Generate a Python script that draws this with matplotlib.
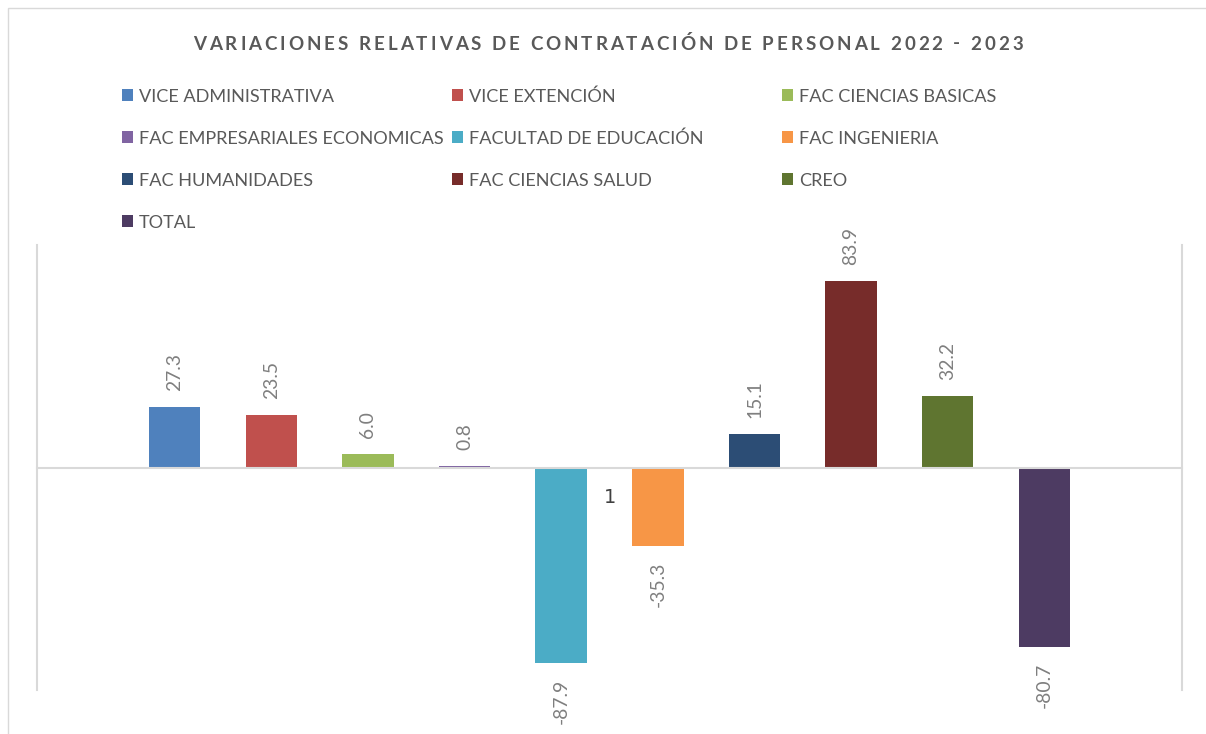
import matplotlib
matplotlib.use('Agg')
import matplotlib.pyplot as plt
from matplotlib.patches import Rectangle
from matplotlib import font_manager
from matplotlib.ft2font import FT2Font

# ---------------- data ----------------
title = "VARIACIONES RELATIVAS DE CONTRATACIÓN DE PERSONAL 2022 - 2023"
categories = ["1"]
series = ["VICE ADMINISTRATIVA", "VICE EXTENCIÓN", "FAC CIENCIAS BASICAS",
          "FAC EMPRESARIALES ECONOMICAS", "FACULTAD DE EDUCACIÓN", "FAC INGENIERIA",
          "FAC HUMANIDADES", "FAC CIENCIAS SALUD", "CREO", "TOTAL"]
values = [27.3, 23.5, 6.0, 0.8, -87.9, -35.3, 15.1, 83.9, 32.2, -80.7]
colors = ["#4F81BD", "#C0504D", "#9BBB59", "#8064A2", "#4BACC6", "#F79646",
          "#2C4D75", "#772C2A", "#5F7530", "#4D3B62"]

# ---------------- setup ----------------
W, H = 1206, 734
DPI = 100
FONT = 'Lato'
fig = plt.figure(figsize=(W / DPI, H / DPI), dpi=DPI)


def adv_width(s, size_pt, weight='normal'):
    path = font_manager.findfont(font_manager.FontProperties(family=FONT, weight=weight))
    f = FT2Font(path)
    f.set_size(size_pt, DPI)
    total = 0.0
    for ch in s:
        g = f.load_char(ord(ch))
        total += g.linearHoriAdvance / 65536
    return total


def fx(px):
    return px / W


def fy(py):
    return 1 - py / H


legend_size = 10 * 305 / adv_width("FAC EMPRESARIALES ECONOMICAS", 10)
label_size = 10 * 38 / adv_width("27.3", 10)

# outer chart border
fig.patches.append(Rectangle((fx(7.5), -0.1), 2, fy(8) + 0.1, fill=False,
                             ec='#d9d9d9', lw=1.0, transform=fig.transFigure, figure=fig))

# ---------------- title (letter-spaced) ----------------
tsize = 13.5
path_b = font_manager.findfont(font_manager.FontProperties(family=FONT, weight='bold'))
fb = FT2Font(path_b)
fb.set_size(tsize, DPI)
advs = []
for ch in title:
    g = fb.load_char(ord(ch))
    advs.append(g.linearHoriAdvance / 65536)
span_left, span_right = 193, 1023
gap = ((span_right - span_left) - sum(advs)) / (len(title) - 1)
x = span_left
for ch, a in zip(title, advs):
    fig.text(fx(x), fy(49.5), ch, fontsize=tsize, fontweight='bold', family=FONT,
             color='#595959', ha='left', va='baseline')
    x += a + gap

# ---------------- legend (manual, equal column widths) ----------------
for i, (name, c) in enumerate(zip(series, colors)):
    col, row = i % 3, i // 3
    sx = 121.5 + 330 * col
    sy = 89 + 42 * row
    fig.patches.append(Rectangle((fx(sx), fy(sy + 12)), 11.5 / W, 12 / H, fc=c, ec='none',
                                 transform=fig.transFigure, figure=fig))
    fig.text(fx(139 + 330 * col), fy(sy + 12.5), name, fontsize=legend_size, family=FONT,
             color='#595959', ha='left', va='baseline')

# ---------------- axes ----------------
ax = fig.add_axes([fx(37), fy(690), (1182 - 37) / W, (690 - 245) / H])
n = len(series)
pitch = 0.0844
bw = 0.045
offsets = [(i - (n - 1) / 2) * pitch for i in range(n)]
for xo, v, c, name in zip(offsets, values, colors, series):
    ax.bar(xo, v, width=bw, color=c, label=name, zorder=2)
    ax.annotate(f"{v:.1f}", (xo, v), xytext=(0, 11.5 if v >= 0 else -11.5),
                textcoords='offset points', rotation=90, ha='center',
                va='bottom' if v >= 0 else 'top', color='#7f7f7f',
                fontsize=label_size, family=FONT)

ax.set_xlim(-0.5, 0.5)
ax.set_ylim(-100, 100)
ax.set_yticks([])
ax.set_xticks([0])
ax.set_xticklabels(categories, family=FONT)
ax.tick_params(axis='x', length=0, pad=15, labelsize=label_size, labelcolor='#404040')
ax.spines['top'].set_visible(False)
ax.spines['bottom'].set_position(('data', 0))
for s in ['bottom', 'left', 'right']:
    ax.spines[s].set_color('#d9d9d9')
    ax.spines[s].set_linewidth(1.5)
ax.spines['bottom'].set_zorder(3)
ax.patch.set_alpha(0)

fig.savefig('out.png', dpi=DPI)
